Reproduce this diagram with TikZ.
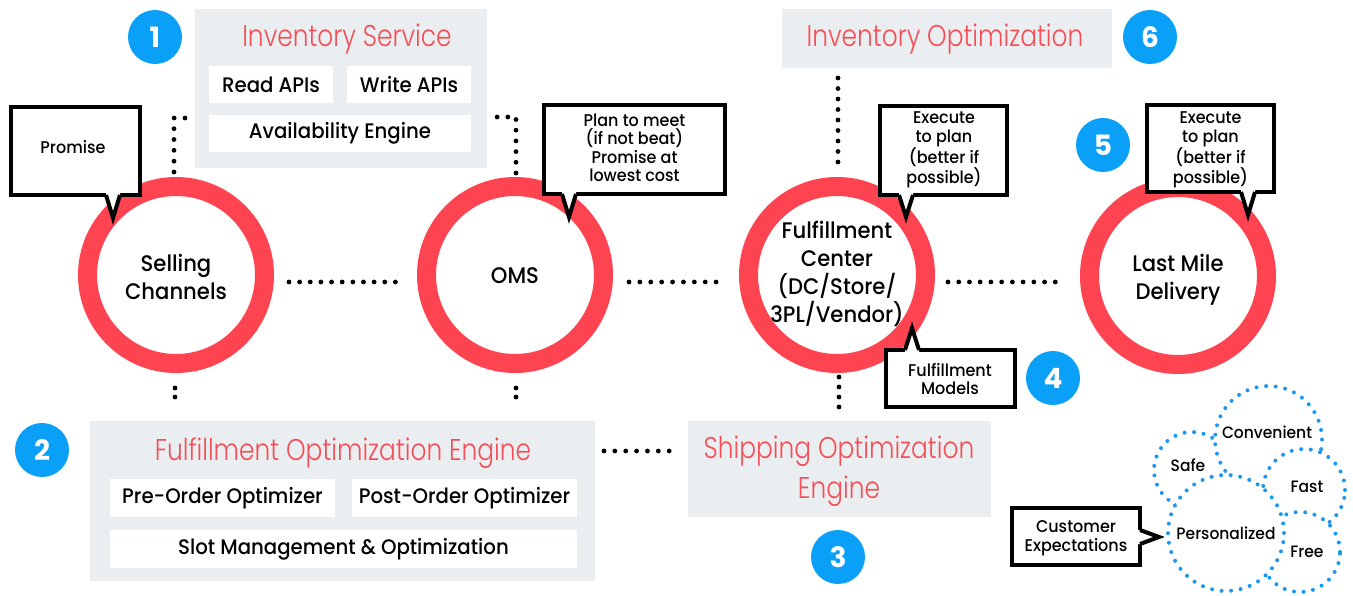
\documentclass[tikz,border=0pt]{standalone}
\usepackage{fontspec}
\usetikzlibrary{calc}
\setmainfont{Poppins}
\newfontfamily\poppins{Poppins}
\IfFontExistsTF{Poppins Medium}{\newfontfamily\bodyfont{Poppins Medium}[FakeStretch=0.94]}{\newfontfamily\bodyfont{Poppins}[FakeStretch=0.94]}
\IfFontExistsTF{Poppins Light}{\newfontfamily\titlefont{Poppins Light}[FakeStretch=0.83]}{\newfontfamily\titlefont{Poppins}[FakeStretch=0.83]}
\definecolor{ringred}{RGB}{255,68,81}
\definecolor{titlered}{RGB}{244,78,88}
\definecolor{badgeblue}{RGB}{10,160,248}
\definecolor{vennblue}{RGB}{28,152,240}
\definecolor{panelgray}{RGB}{235,238,240}
\tikzset{
  panel/.style={fill=panelgray, draw=none, inner sep=0pt, outer sep=0pt},
  wbox/.style={fill=white, draw=none, inner sep=0pt, outer sep=0pt, font=\bodyfont\fontsize{21}{24}\selectfont},
  titletext/.style={text=titlered, inner sep=0pt, align=center, font=\titlefont\fontsize{30}{40}\selectfont},
  ring/.style={circle, draw=ringred, fill=white, line width=19pt, minimum size=177pt, inner sep=0pt},
  ringtext/.style={align=center, inner sep=0pt, font=\bodyfont\fontsize{22.5}{28}\selectfont},
  callout/.style={draw=black, fill=white, line width=4pt, inner sep=0pt, outer sep=0pt},
  ptrline/.style={draw=black, line width=4pt, line join=miter},
  ctext/.style={align=center, inner sep=0pt, font=\bodyfont\fontsize{17}{18.5}\selectfont},
  badge/.style={circle, fill=badgeblue, minimum size=54pt, inner sep=0pt, text=white, font=\poppins\bfseries\fontsize{28}{28}\selectfont},
  dotsline/.style={line width=4.8pt, line cap=round, dash pattern=on 0pt off #1},
  vennc/.style={circle, draw=vennblue, fill=white, line width=4pt, line cap=round, dash pattern=on 0pt off 9.6pt, inner sep=0pt},
  vtext/.style={inner sep=0pt, font=\bodyfont\fontsize{16.5}{18}\selectfont},
}
\newcommand{\ptrdown}[3]{%
  \fill[white] ([shift={(#2-7,-3)}]#1.south) -- ([shift={(#2-7,0)}]#1.south) -- ([shift={(#2,#3)}]#1.south) -- ([shift={(#2+7,0)}]#1.south) -- ([shift={(#2+7,-3)}]#1.south) -- cycle;
  \draw[ptrline] ([shift={(#2-7,0)}]#1.south) -- ([shift={(#2,#3)}]#1.south) -- ([shift={(#2+7,0)}]#1.south);}
\newcommand{\ptrup}[3]{%
  \fill[white] ([shift={(#2-7,3)}]#1.north) -- ([shift={(#2-7,0)}]#1.north) -- ([shift={(#2,-#3)}]#1.north) -- ([shift={(#2+7,0)}]#1.north) -- ([shift={(#2+7,3)}]#1.north) -- cycle;
  \draw[ptrline] ([shift={(#2-7,0)}]#1.north) -- ([shift={(#2,-#3)}]#1.north) -- ([shift={(#2+7,0)}]#1.north);}
\newcommand{\ptrright}[3]{%
  \fill[white] ([shift={(-3,#2-7)}]#1.east) -- ([shift={(0,#2-7)}]#1.east) -- ([shift={(#3,#2)}]#1.east) -- ([shift={(0,#2+7)}]#1.east) -- ([shift={(-3,#2+7)}]#1.east) -- cycle;
  \draw[ptrline] ([shift={(0,#2-7)}]#1.east) -- ([shift={(#3,#2)}]#1.east) -- ([shift={(0,#2+7)}]#1.east);}
\begin{document}
\begin{tikzpicture}[x=1pt, y=-1pt]
\useasboundingbox (0,0) rectangle (1353,596);
\fill[white] (0,0) rectangle (1353,596);

% panels
\node[panel, minimum width=292pt, minimum height=159pt] (inv) at (341,88.5) {};
\node[panel, minimum width=330pt, minimum height=59pt] (invopt) at (947,38.5) {};
\node[panel, minimum width=505pt, minimum height=160pt] (foe) at (342.5,501) {};
\node[panel, minimum width=303pt, minimum height=96pt] (ship) at (839.5,469) {};

% panel titles
\node[titletext, anchor=base] (invT) at (347,47) {Inventory Service};
\node[titletext, anchor=base] (invoptT) at (945,47) {Inventory Optimization};
\node[titletext, anchor=base] (foeT) at (343,460) {Fulfillment Optimization Engine};
\node[titletext] (shipT) at (839,471) {Shipping Optimization\\Engine};

% white boxes
\node[wbox, minimum width=124pt, minimum height=37pt] (read) at (271,84.5) {Read APIs};
\node[wbox, minimum width=124pt, minimum height=37pt] (write) at (409,84.5) {Write APIs};
\node[wbox, minimum width=262pt, minimum height=37pt] (avail) at (340,133.5) {Availability Engine};
\node[wbox, minimum width=225pt, minimum height=38pt] (pre) at (222.5,498) {Pre-Order Optimizer};
\node[wbox, minimum width=225pt, minimum height=38pt] (post) at (464.5,498) {Post-Order Optimizer};
\node[wbox, minimum width=467pt, minimum height=38pt] (slot) at (343.5,549) {Slot Management \& Optimization};

% rings
\node[ring] (sc) at (176,275) {};
\node[ring] (oms) at (515,275) {};
\node[ring] (fc) at (837,275) {};
\node[ring] (lm) at (1178,276) {};
\node[ringtext] (scT) at (176,277) {Selling\\Channels};
\node[ringtext] (omsT) at (515,276) {OMS};
\node[ringtext] (fcT) at (837,274) {Fulfillment\\Center\\(DC/Store/\\3PL/Vendor)};
\node[ringtext] (lmT) at (1178,280) {Last Mile\\Delivery};

% dotted connectors
\draw[dotsline=10.64pt] ([shift={(15,7)}]sc.east) -- ([shift={(-11,7)}]oms.west);
\draw[dotsline=10.89pt] ([shift={(16,7)}]oms.east) -- ([shift={(-12,7)}]fc.west);
\draw[dotsline=10.73pt] ([shift={(13,7)}]fc.east) -- ([shift={(-14,6)}]lm.west);
\draw[dotsline=10.83pt] ([shift={(-2,-5)}]sc.north) |- ([shift={(-10,29.5)}]inv.west);
\draw[dotsline=10.7pt] ([shift={(1,-4)}]oms.north) |- ([shift={(10,28.5)}]inv.east);
\draw[dotsline=10.5pt] ([shift={(1,-15)}]fc.north) -- ($(fc.north |- invopt.south)+(1,10)$);
\draw[dotsline=9pt] ([shift={(-1,15)}]sc.south) -- ($(sc.south |- foe.north)+(-1,-15)$);
\draw[dotsline=9pt] ([shift={(1,15)}]oms.south) -- ($(oms.south |- foe.north)+(1,-15)$);
\draw[dotsline=10pt] ([shift={(2,4)}]fc.south) -- ($(fc.south |- ship.north)+(2,-14)$);
\draw[dotsline=10.86pt] ([shift={(9,-50)}]foe.east) -- ([shift={(-8,-18)}]ship.west);

% callouts
\node[callout, minimum width=129pt, minimum height=88pt] (promC) at (75.5,151) {};
\ptrdown{promC}{37.5}{23}
\node[ctext] (promT) at (73,147) {Promise};

\node[callout, minimum width=181pt, minimum height=89pt] (omsC) at (634.5,149.5) {};
\ptrdown{omsC}{-65.5}{23}
\node[ctext] (omsCT) at (634.5,148) {Plan to meet\\(if not beat)\\Promise at\\lowest cost};

\node[callout, minimum width=127pt, minimum height=89pt] (fcC) at (943.5,150.5) {};
\ptrdown{fcC}{-37.5}{22}
\node[ctext] (fcCT) at (944,150) {Execute\\to plan\\(better if\\possible)};

\node[callout, minimum width=127pt, minimum height=87pt] (lmC) at (1210.5,148.5) {};
\ptrdown{lmC}{37.5}{23}
\node[ctext] (lmCT) at (1210.5,150) {Execute\\to plan\\(better if\\possible)};

\node[callout, minimum width=129pt, minimum height=57pt] (fmC) at (950.5,378.5) {};
\ptrup{fmC}{-38.5}{22}
\node[ctext] (fmT) at (950,379) {Fulfillment\\Models};

\node[callout, minimum width=128pt, minimum height=57pt] (ceC) at (1076,536.5) {};
\ptrright{ceC}{0.5}{19}
\node[ctext] (ceT) at (1076,538) {Customer\\Expectations};

% venn
\node[vennc, minimum size=76pt] (safe) at (1192,470) {};
\node[vennc, minimum size=107pt] (conv) at (1268.5,439.5) {};
\node[vennc, minimum size=82pt] (fast) at (1304,490) {};
\node[vennc, minimum size=80pt] (free) at (1300,552) {};
\node[vennc, minimum size=116pt] (pers) at (1226,533) {};
\node[vtext] (convT) at (1267,432) {Convenient};
\node[vtext] (safeT) at (1188,465) {Safe};
\node[vtext] (fastT) at (1307,487) {Fast};
\node[vtext] (persT) at (1226,533) {Personalized};
\node[vtext] (freeT) at (1307,552) {Free};

% badges
\node[badge] (b1) at (155,37) {1};
\node[badge] (b2) at (42,450) {2};
\node[badge] (b3) at (838,557) {3};
\node[badge] (b4) at (1053,378) {4};
\node[badge] (b5) at (1103,145) {5};
\node[badge] (b6) at (1150,37) {6};
\end{tikzpicture}
\end{document}
